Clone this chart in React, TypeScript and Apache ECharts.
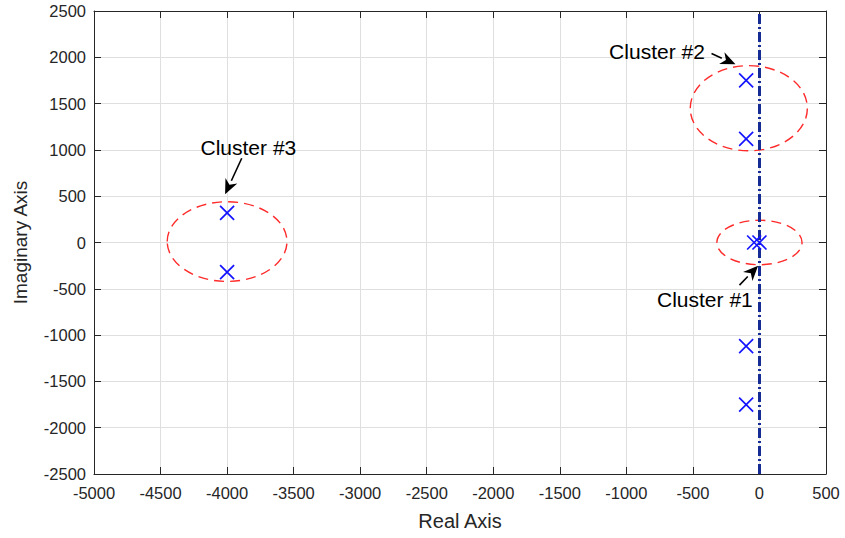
import React, { useEffect, useRef } from "react";
import * as echarts from "echarts";

const poleRe = [-100, -100, -100, -100, -40, 0, -4000, -4000];
const poleIm = [1750, 1120, -1120, -1750, 0, 0, 320, -320];

// ellipse annotations: [centerRe, centerIm, radiusRe, radiusIm]
const ellipses = [
  [0, 0, 320, 240],
  [-80, 1450, 440, 460],
  [-4000, 10, 450, 430],
];

// arrows: [fromRe, fromIm, toRe, toIm]
const arrows = [
  [-150, -460, -10, -250],
  [-360, 2040, -180, 1925],
  [-3890, 910, -4015, 520],
];

const labelTexts = ["Cluster #1", "Cluster #2", "Cluster #3"];
const labelRe = [-410, -770, -3840];
const labelIm = [-620, 2060, 1030];

const FONT = "'Liberation Sans', Arial, Helvetica, sans-serif";

export default function App() {
  const ref = useRef<HTMLDivElement>(null);
  useEffect(() => {
    document.body.style.margin = "0";
    const chart = echarts.init(ref.current!, null, { renderer: "svg" });
    const axisLineStyle = { color: "#262626", width: 1 };
    const fmt = (v: number) => String(v);
    chart.setOption({
      animation: false,
      backgroundColor: "#ffffff",
      grid: { left: 94, right: 19, top: 11, bottom: 64, containLabel: false },
      xAxis: [
        {
          type: "value",
          min: -5000,
          max: 500,
          interval: 500,
          position: "bottom",
          name: "Real Axis",
          nameLocation: "middle",
          nameGap: 37,
          nameTextStyle: { fontFamily: FONT, fontSize: 20, color: "#262626" },
          axisLine: { show: true, onZero: false, lineStyle: axisLineStyle },
          axisTick: { show: true, inside: true, length: 7, lineStyle: axisLineStyle },
          axisLabel: { formatter: fmt, fontFamily: FONT, fontSize: 16.5, color: "#262626", margin: 10 },
          splitLine: { show: true, lineStyle: { color: "#dfdfdf", width: 1 } },
        },
        {
          type: "value",
          min: -5000,
          max: 500,
          interval: 500,
          position: "top",
          axisLine: { show: true, onZero: false, lineStyle: axisLineStyle },
          axisTick: { show: true, inside: true, length: 7, lineStyle: axisLineStyle },
          axisLabel: { show: false },
          splitLine: { show: false },
        },
      ],
      yAxis: [
        {
          type: "value",
          min: -2500,
          max: 2500,
          interval: 500,
          position: "left",
          name: "Imaginary Axis",
          nameLocation: "middle",
          nameGap: 64,
          nameTextStyle: { fontFamily: FONT, fontSize: 19, color: "#262626" },
          axisLine: { show: true, onZero: false, lineStyle: axisLineStyle },
          axisTick: { show: true, inside: true, length: 7, lineStyle: axisLineStyle },
          axisLabel: { formatter: fmt, fontFamily: FONT, fontSize: 16.5, color: "#262626", margin: 8 },
          splitLine: { show: true, lineStyle: { color: "#dfdfdf", width: 1 } },
        },
        {
          type: "value",
          min: -2500,
          max: 2500,
          interval: 500,
          position: "right",
          axisLine: { show: true, onZero: false, lineStyle: axisLineStyle },
          axisTick: { show: true, inside: true, length: 7, lineStyle: axisLineStyle },
          axisLabel: { show: false },
          splitLine: { show: false },
        },
      ],
      series: [
        {
          type: "custom",
          name: "ellipses",
          xAxisIndex: 0,
          yAxisIndex: 0,
          data: ellipses,
          encode: { x: 0, y: 1 },
          z: 3,
          renderItem: (params: any, api: any) => {
            const c = api.coord([api.value(0), api.value(1)]);
            const s = api.size([api.value(2), api.value(3)]);
            return {
              type: "ellipse",
              shape: { cx: c[0], cy: c[1], rx: s[0], ry: s[1] },
              style: { fill: "none", stroke: "#ff2a2a", lineWidth: 1.4, lineDash: [10, 6] },
            };
          },
        },
        {
          type: "line",
          name: "axis",
          data: [],
          markLine: {
            silent: true,
            symbol: "none",
            label: { show: false },
            lineStyle: { color: "#152c94", width: 3, type: [10, 3, 2, 3] },
            data: [{ xAxis: 0 }],
          },
          z: 4,
        },
        {
          type: "scatter",
          name: "poles",
          data: poleRe.map((re, i) => [re, poleIm[i]]),
          symbol: "path://M0,0L10,10M10,0L0,10",
          symbolSize: 14,
          itemStyle: { color: "rgba(0,0,0,0)", borderColor: "#1414ff", borderWidth: 1.7, opacity: 1 },
          z: 5,
        },
        {
          type: "custom",
          name: "arrows",
          data: arrows,
          encode: { x: [0, 2], y: [1, 3] },
          z: 6,
          renderItem: (params: any, api: any) => {
            const p1 = api.coord([api.value(0), api.value(1)]);
            const p2 = api.coord([api.value(2), api.value(3)]);
            const ang = Math.atan2(p2[1] - p1[1], p2[0] - p1[0]);
            const hl = 15;
            const hw = 6.5;
            const bx = p2[0] - hl * Math.cos(ang);
            const by = p2[1] - hl * Math.sin(ang);
            const nx = -Math.sin(ang) * hw;
            const ny = Math.cos(ang) * hw;
            return {
              type: "group",
              children: [
                {
                  type: "line",
                  shape: { x1: p1[0], y1: p1[1], x2: bx, y2: by },
                  style: { stroke: "#000", lineWidth: 1.6 },
                },
                {
                  type: "polygon",
                  shape: {
                    points: [
                      [p2[0], p2[1]],
                      [bx + nx, by + ny],
                      [bx + 0.3 * hl * Math.cos(ang), by + 0.3 * hl * Math.sin(ang)],
                      [bx - nx, by - ny],
                    ],
                  },
                  style: { fill: "#000" },
                },
              ],
            };
          },
        },
        {
          type: "custom",
          name: "labels",
          data: labelRe.map((re, i) => [re, labelIm[i], i]),
          encode: { x: 0, y: 1 },
          z: 7,
          renderItem: (params: any, api: any) => {
            const p = api.coord([api.value(0), api.value(1)]);
            return {
              type: "text",
              x: p[0],
              y: p[1],
              style: {
                text: labelTexts[api.value(2)],
                align: "center",
                verticalAlign: "middle",
                fontFamily: FONT,
                fontSize: 21,
                fill: "#000",
              },
            };
          },
        },
      ],
    });
    return () => chart.dispose();
  }, []);
  return <div ref={ref} style={{ width: 845, height: 538 }} />;
}
